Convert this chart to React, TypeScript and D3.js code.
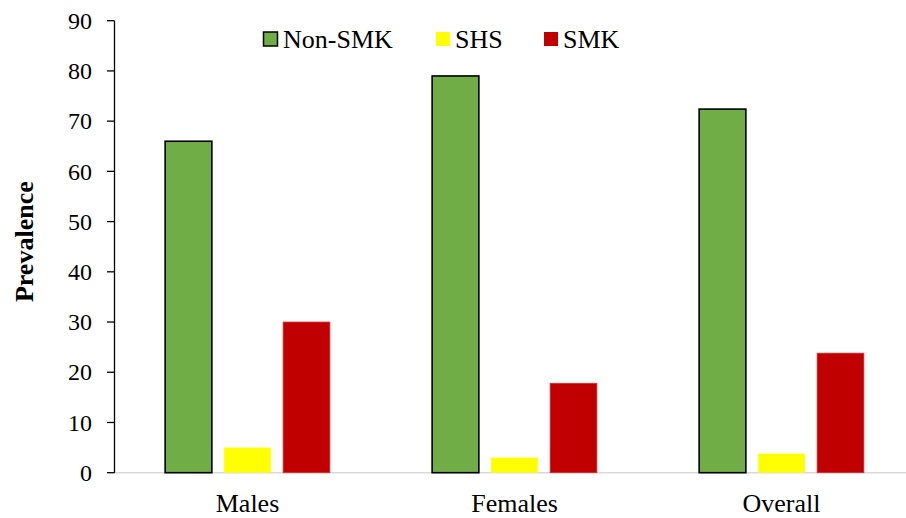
import React from "react";
import * as d3 from "d3";

const categories = ["Males", "Females", "Overall"];
const seriesNames = ["Non-SMK", "SHS", "SMK"];
const nonSmk = [66, 79, 72.4];
const shs = [5, 3, 3.8];
const smk = [30, 17.8, 23.8];
const yTicks = [0, 10, 20, 30, 40, 50, 60, 70, 80, 90];

const seriesValues = [nonSmk, shs, smk];
const colors = ["#70AD47", "#FFFF00", "#C00000"];
const strokes = ["#000000", "none", "#D03030"];
const strokeWidths = [1.6, 0, 0.8];

const W = 906;
const H = 518;
const FONT = "Liberation Serif, Times New Roman, serif";
const ts = { fontFamily: FONT };

export default function App() {
  const y = d3.scaleLinear().domain([0, 90]).range([472.7, 20.7]);
  const x0 = d3
    .scaleBand<string>()
    .domain(categories)
    .range([114, 915])
    .paddingInner(0.383)
    .paddingOuter(0.1915);
  const x1 = d3
    .scaleBand<string>()
    .domain(seriesNames)
    .range([0, x0.bandwidth()])
    .paddingInner(0.208)
    .paddingOuter(0);

  const legendItems = [
    { sx: 263.5, tx: 283 },
    { sx: 436, tx: 455 },
    { sx: 544, tx: 563 },
  ];

  return (
    <svg
      width={W}
      height={H}
      style={{ position: "absolute", left: 0, top: 0, background: "#fff" }}
    >
      <rect x={0} y={0} width={W} height={H} fill="#fff" />
      <line x1={114} x2={906} y1={y(0)} y2={y(0)} stroke="#D9D9D9" strokeWidth={1.5} />
      {categories.map((c, ci) => (
        <g key={c} transform={`translate(${x0(c)},0)`}>
          {seriesNames.map((s, si) => {
            const v = seriesValues[si][ci];
            return (
              <rect
                key={s}
                x={x1(s)}
                y={y(v)}
                width={x1.bandwidth()}
                height={y(0) - y(v)}
                fill={colors[si]}
                stroke={strokes[si]}
                strokeWidth={strokeWidths[si]}
              />
            );
          })}
        </g>
      ))}
      <line x1={114.5} x2={114.5} y1={y(90)} y2={y(0)} stroke="#000" strokeWidth={1.3} />
      {yTicks.map((t) => (
        <g key={t}>
          <line x1={107} x2={114.5} y1={y(t)} y2={y(t)} stroke="#000" strokeWidth={1.3} />
          <text x={92} y={y(t)} dy="0.34em" textAnchor="end" fontSize={24} fill="#000" style={ts}>
            {t}
          </text>
        </g>
      ))}
      {categories.map((c) => (
        <text
          key={c}
          x={(x0(c) as number) + x0.bandwidth() / 2}
          y={511.5}
          textAnchor="middle"
          fontSize={26}
          fill="#000"
          style={ts}
        >
          {c}
        </text>
      ))}
      <text
        transform={`translate(33,241.7) rotate(-90)`}
        textAnchor="middle"
        fontSize={26}
        fontWeight="bold"
        fill="#000"
        style={ts}
      >
        Prevalence
      </text>
      {seriesNames.map((s, i) => (
        <g key={s}>
          <rect
            x={legendItems[i].sx}
            y={32}
            width={14}
            height={14}
            fill={colors[i]}
            stroke={i === 0 ? "#000" : "none"}
            strokeWidth={1.5}
          />
          <text x={legendItems[i].tx} y={48.3} fontSize={26} fill="#000" style={ts}>
            {s}
          </text>
        </g>
      ))}
    </svg>
  );
}
